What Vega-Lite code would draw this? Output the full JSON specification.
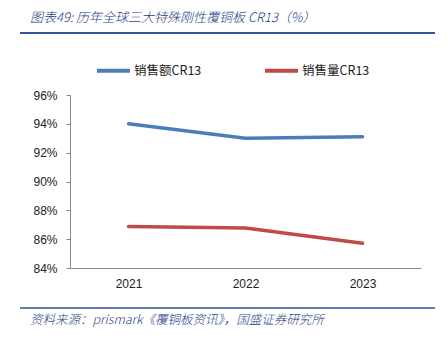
{
  "$schema": "https://vega.github.io/schema/vega-lite/v6.json",
  "width": 351,
  "height": 173,
  "autosize": "none",
  "padding": {"left": 70, "top": 95, "right": 26, "bottom": 73},
  "background": "white",
  "config": {"view": {"stroke": null}, "font": "Noto Sans CJK SC"},
  "datasets": {
    "series": [
      {"year": "2021", "series": "销售额CR13", "value": 94.0},
      {"year": "2022", "series": "销售额CR13", "value": 93.0},
      {"year": "2023", "series": "销售额CR13", "value": 93.1},
      {"year": "2021", "series": "销售量CR13", "value": 86.87},
      {"year": "2022", "series": "销售量CR13", "value": 86.78},
      {"year": "2023", "series": "销售量CR13", "value": 85.72}
    ]
  },
  "layer": [
    {
      "data": {"name": "series"},
      "mark": {"type": "line", "strokeWidth": 3.5, "strokeCap": "round", "strokeJoin": "round"},
      "encoding": {
        "x": {
          "field": "year", "type": "ordinal",
          "scale": {"type": "point", "padding": 0.5},
          "axis": {"title": null, "labelAngle": 0, "ticks": false, "labelFontSize": 12, "labelColor": "#222", "labelPadding": 10, "domainColor": "#888", "labelFont": "Liberation Sans"}
        },
        "y": {
          "field": "value", "type": "quantitative",
          "scale": {"domain": [84, 96], "nice": false, "zero": false},
          "axis": {"title": null, "values": [84, 86, 88, 90, 92, 94, 96], "labelExpr": "datum.value + '%'", "grid": false, "tickSize": 4, "tickColor": "#888", "domainColor": "#888", "labelFontSize": 12, "labelColor": "#222", "labelPadding": 9, "labelFont": "Liberation Sans"}
        },
        "color": {
          "field": "series", "type": "nominal",
          "scale": {"domain": ["销售额CR13", "销售量CR13"], "range": ["#4a7ebb", "#be4b48"]},
          "legend": {
            "title": null, "orient": "none", "legendX": 25, "legendY": -43, "direction": "horizontal",
            "symbolType": "stroke", "symbolSize": 1089, "symbolStrokeWidth": 4,
            "labelFontSize": 12.5, "labelColor": "#222", "columnPadding": 55, "labelOffset": 2
          }
        }
      }
    },
    {
      "data": {"values": [{}]},
      "mark": {"type": "rule", "color": "#2e559a", "strokeWidth": 2},
      "encoding": {"x": {"value": -50}, "x2": {"value": 365}, "y": {"value": -62}}
    },
    {
      "data": {"values": [{}]},
      "mark": {"type": "rule", "color": "#2e559a", "strokeWidth": 1.5},
      "encoding": {"x": {"value": -50}, "x2": {"value": 365}, "y": {"value": 213}}
    },
    {
      "data": {"values": [{}]},
      "mark": {"type": "text", "align": "left", "baseline": "alphabetic", "fontSize": 13, "fontStyle": "italic", "fontWeight": 300, "color": "#1f3c88", "text": "图表49:  历年全球三大特殊刚性覆铜板 CR13（%）"},
      "encoding": {"x": {"value": -40}, "y": {"value": -73}}
    },
    {
      "data": {"values": [{}]},
      "mark": {"type": "text", "align": "left", "baseline": "alphabetic", "fontSize": 12.5, "fontStyle": "italic", "fontWeight": 300, "color": "#1f3c88", "text": "资料来源：prismark《覆铜板资讯》，国盛证券研究所"},
      "encoding": {"x": {"value": -40}, "y": {"value": 229}}
    }
  ]
}
